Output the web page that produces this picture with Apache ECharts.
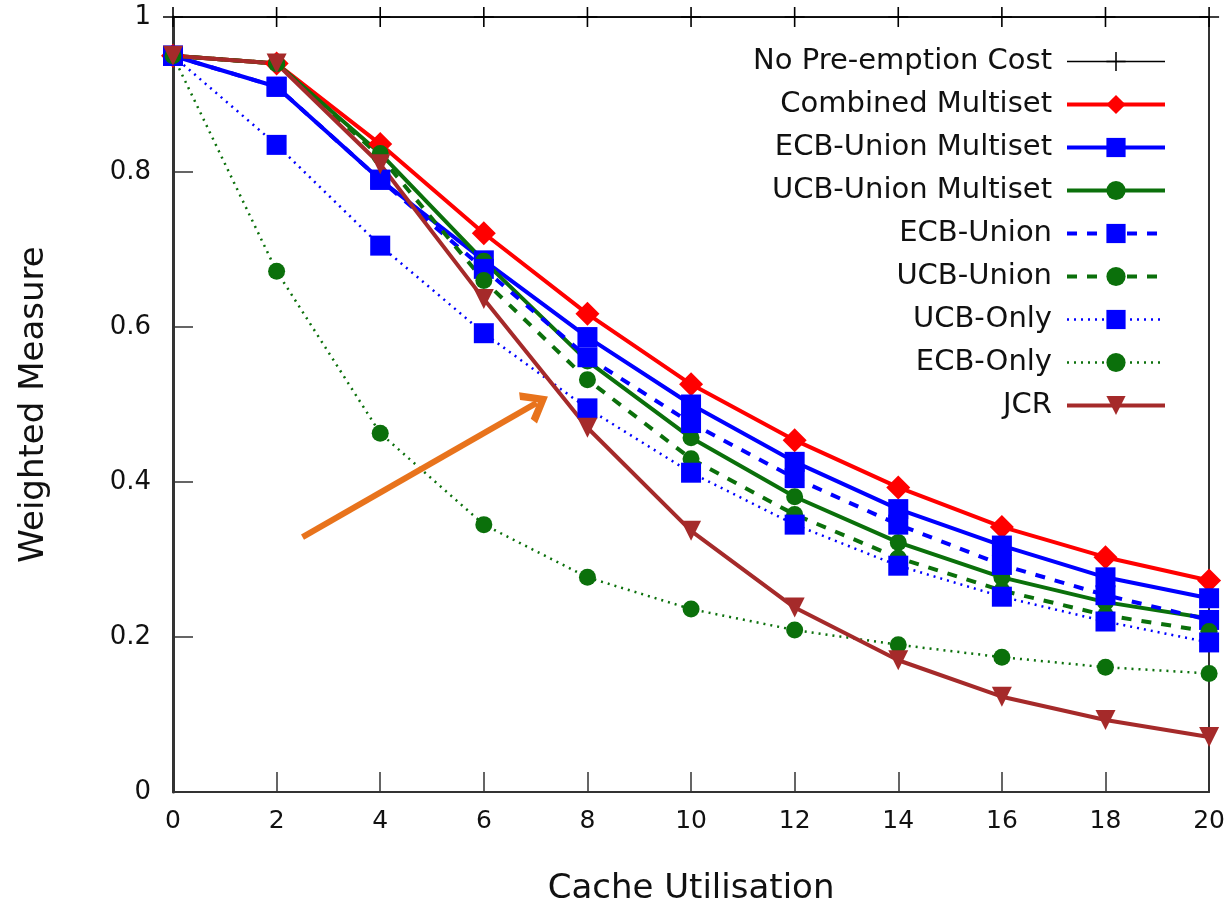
<!DOCTYPE html>
<html>
<head>
<meta charset="utf-8">
<title>Weighted Measure vs Cache Utilisation</title>
<script src="https://cdn.jsdelivr.net/npm/echarts@6/dist/echarts.min.js"></script>
<style>
  html, body { margin: 0; padding: 0; background: #fff; }
  #chart { width: 1228px; height: 914px; }
</style>
</head>
<body>
<div id="chart"></div>
<script>
var cacheUtil = [0, 2, 4, 6, 8, 10, 12, 14, 16, 18, 20];

var noPreemption  = [1, 1, 1, 1, 1, 1, 1, 1, 1, 1, 1];
var combinedMulti = [0.95, 0.94, 0.836, 0.721, 0.617, 0.526, 0.454, 0.393, 0.342, 0.303, 0.273];
var ecbUnionMulti = [0.95, 0.91, 0.79, 0.686, 0.587, 0.50, 0.426, 0.365, 0.318, 0.277, 0.25];
var ucbUnionMulti = [0.95, 0.94, 0.824, 0.685, 0.556, 0.457, 0.381, 0.322, 0.277, 0.245, 0.224];
var ecbUnion      = [0.95, 0.91, 0.79, 0.675, 0.561, 0.476, 0.405, 0.345, 0.293, 0.254, 0.222];
var ucbUnion      = [0.95, 0.94, 0.82, 0.66, 0.532, 0.43, 0.358, 0.302, 0.26, 0.228, 0.207];
var ucbOnly       = [0.95, 0.835, 0.705, 0.592, 0.495, 0.412, 0.345, 0.292, 0.252, 0.22, 0.193];
var ecbOnly       = [0.95, 0.672, 0.463, 0.345, 0.277, 0.236, 0.209, 0.19, 0.174, 0.161, 0.153];
var jcr           = [0.95, 0.94, 0.81, 0.636, 0.47, 0.337, 0.238, 0.17, 0.123, 0.093, 0.071];

// annotation arrow, in data coords
var arrowFrom = [2.5, 0.329];
var arrowTo = [7.02, 0.502];

var FONT = 'DejaVu Sans';
var RED = '#ff0000', BLUE = '#0000ff', GREEN = '#0b700b', BROWN = '#a52a2a';
var PLUS = 'path://M4.6,0h0.8v4.6h4.6v0.8h-4.6v4.6h-0.8v-4.6h-4.6v-0.8h4.6z';

function pairs(ys) {
    return cacheUtil.map(function (x, i) { return [x, ys[i]]; });
}

function mkSeries(name, ys, color, lineType, width, symbol, size) {
    return {
        name: name,
        type: 'line',
        data: pairs(ys),
        symbol: symbol,
        symbolSize: size,
        showAllSymbol: true,
        lineStyle: { color: color, width: width, type: lineType },
        itemStyle: { color: color, borderWidth: 0 },
        emphasis: { disabled: true },
        z: 3
    };
}

var chart = echarts.init(document.getElementById('chart'));

var series = [
    mkSeries('No Pre-emption Cost', noPreemption, '#000', 'solid', 1.5, PLUS, 20),
    mkSeries('Combined Multiset', combinedMulti, RED, 'solid', 4, 'diamond', 24),
    mkSeries('ECB-Union Multiset', ecbUnionMulti, BLUE, 'solid', 4, 'rect', 20),
    mkSeries('UCB-Union Multiset', ucbUnionMulti, GREEN, 'solid', 4, 'circle', 17),
    mkSeries('ECB-Union', ecbUnion, BLUE, [10, 10], 4, 'rect', 20),
    mkSeries('UCB-Union', ucbUnion, GREEN, [10, 10], 4, 'circle', 17),
    mkSeries('UCB-Only', ucbOnly, BLUE, [2, 5], 2.5, 'rect', 20),
    mkSeries('ECB-Only', ecbOnly, GREEN, [2, 5], 2.5, 'circle', 17),
    mkSeries('JCR', jcr, BROWN, 'solid', 4, 'triangle', 20)
];
series[8].symbolRotate = 180;

// orange arrow annotation
series.push({
    name: 'arrow',
    type: 'line',
    data: [],
    silent: true,
    markLine: {
        silent: true,
        animation: false,
        symbol: ['none', 'path://M0,9 L5,0 L10,9 L8,10.2 L5,4.6 L2,10.2 Z'],
        symbolSize: [36, 26],
        label: { show: false },
        lineStyle: { color: '#e8731c', width: 6, type: 'solid' },
        emphasis: { disabled: true },
        data: [[{ coord: arrowFrom }, { coord: arrowTo }]]
    }
});

var option = {
    animation: false,
    backgroundColor: '#fff',
    textStyle: { fontFamily: FONT },
    grid: { left: 173, right: 15, top: 17, bottom: 122 },
    legend: {
        data: series.slice(0, 9).map(function (s) { return s.name; }),
        orient: 'vertical',
        right: 56,
        top: 42,
        align: 'right',
        itemWidth: 98,
        itemHeight: 24,
        itemGap: 14,
        selectedMode: false,
        lineStyle: { width: 'inherit' },
        textStyle: { fontFamily: FONT, fontSize: 29, color: '#111', padding: [0, 10, 0, 0] }
    },
    xAxis: [{
        type: 'value',
        min: 0,
        max: 20,
        interval: 2,
        name: 'Cache Utilisation',
        nameLocation: 'middle',
        nameGap: 80,
        nameTextStyle: { fontFamily: FONT, fontSize: 34, color: '#111' },
        axisLine: { show: true, lineStyle: { color: '#333', width: 2 } },
        axisTick: { show: true, inside: true, length: 20, lineStyle: { color: '#333', width: 1.5 } },
        axisLabel: { fontFamily: FONT, fontSize: 25, color: '#111', margin: 17 },
        splitLine: { show: false }
    }, {
        type: 'value',
        position: 'top',
        min: 0,
        max: 20,
        interval: 2,
        axisLine: { show: true, onZero: false, lineStyle: { color: '#333', width: 2 } },
        axisTick: { show: false },
        axisLabel: { show: false },
        splitLine: { show: false }
    }],
    yAxis: [{
        type: 'value',
        min: 0,
        max: 1,
        interval: 0.2,
        name: 'Weighted Measure',
        nameLocation: 'middle',
        nameGap: 122,
        nameTextStyle: { fontFamily: FONT, fontSize: 34, color: '#111' },
        axisLine: { show: true, lineStyle: { color: '#333', width: 3 } },
        axisTick: { show: true, inside: true, length: 20, lineStyle: { color: '#333', width: 1.5 } },
        axisLabel: { fontFamily: FONT, fontSize: 26, color: '#111', margin: 22 },
        splitLine: { show: false }
    }, {
        type: 'value',
        position: 'right',
        min: 0,
        max: 1,
        interval: 0.2,
        axisLine: { show: true, onZero: false, lineStyle: { color: '#333', width: 2 } },
        axisTick: { show: false },
        axisLabel: { show: false },
        splitLine: { show: false }
    }],
    series: series
};

chart.setOption(option);
</script>
</body>
</html>
